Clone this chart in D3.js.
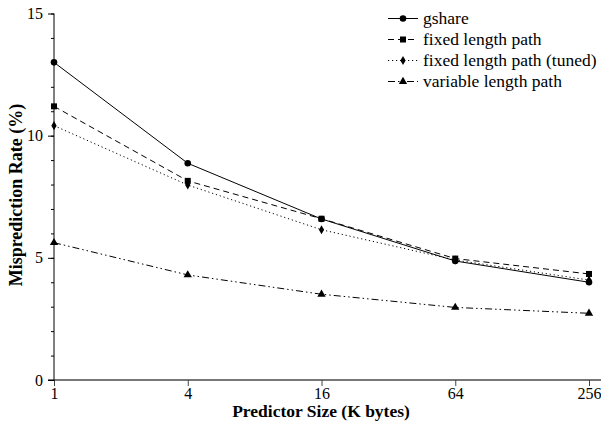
<!DOCTYPE html>
<html><head><meta charset="utf-8">
<script src="https://d3js.org/d3.v7.min.js"></script>
<style>body{margin:0;background:#fff}svg{display:block}text{font-family:"Liberation Serif","Times New Roman",serif}</style>
</head><body><svg id="c" width="601" height="424"></svg>
<script>
const sizes = [1, 4, 16, 64, 256];
const gshare = [13.0, 8.87, 6.59, 4.87, 4.0];
const fixedPath = [11.2, 8.15, 6.6, 4.97, 4.34];
const fixedTuned = [10.41, 7.98, 6.15, 4.91, 4.09];
const variablePath = [5.62, 4.30, 3.51, 2.97, 2.73];
const seriesNames = ["gshare", "fixed length path", "fixed length path (tuned)", "variable length path"];
const yTicks = [0, 5, 10, 15];
const xLabel = "Predictor Size (K bytes)";
const yLabel = "Misprediction Rate (%)";

const svg = d3.select("#c");
const x = d3.scaleLog().base(4).domain([1, 256]).range([54, 589]);
const y = d3.scaleLinear().domain([0, 15]).range([380, 13.5]);

// x axis
const xa = svg.append("g").attr("transform", "translate(0,380)");
xa.append("line").attr("x1", 48).attr("x2", 601).attr("y1", 0).attr("y2", 0)
  .attr("stroke", "#777").attr("stroke-width", 2);
xa.call(g => {
  const ax = d3.axisBottom(x).tickValues(sizes).tickFormat(d3.format("d")).tickSize(6).tickPadding(2);
  const gg = g.append("g").call(ax);
  gg.select(".domain").remove();
  gg.selectAll(".tick line").attr("stroke", "#444");
  gg.selectAll(".tick text").attr("font-size", 16).attr("fill", "#000");
});

// y axis
const ya = svg.append("g").attr("transform", "translate(54,0)");
ya.append("g").call(d3.axisLeft(y).tickValues(d3.range(0, 16)).tickSize(3).tickFormat(""))
  .call(g => g.select(".domain").remove());
ya.append("g").call(d3.axisLeft(y).tickValues(yTicks).tickSize(6).tickPadding(5).tickFormat(d3.format("d")))
  .call(g => g.select(".domain").remove())
  .call(g => g.selectAll("text").attr("font-size", 16).attr("fill", "#000"));
ya.append("line").attr("x1", 0).attr("x2", 0).attr("y1", y(15)).attr("y2", y(0) + 1).attr("stroke", "#000");

// labels
svg.append("text").attr("x", 321).attr("y", 417).attr("text-anchor", "middle")
  .attr("font-weight", "bold").attr("font-size", 17.5).text(xLabel);
svg.append("text").attr("transform", "translate(22,195) rotate(-90)").attr("text-anchor", "middle")
  .attr("font-weight", "bold").attr("font-size", 18).text(yLabel);

const series = [
  {name: seriesNames[0], values: gshare, dash: null, marker: "circle"},
  {name: seriesNames[1], values: fixedPath, dash: "6,4", marker: "square"},
  {name: seriesNames[2], values: fixedTuned, dash: "1.2,2.8", marker: "diamond"},
  {name: seriesNames[3], values: variablePath, dash: "7,3,1.5,3,1.5,3", marker: "triangle"}
];
const sym = {
  circle: d3.symbol().type(d3.symbolCircle).size(34),
  square: d3.symbol().type(d3.symbolSquare).size(36),
  diamond: d3.symbol().type(d3.symbolDiamond).size(24),
  triangle: d3.symbol().type(d3.symbolTriangle).size(30)
};
const line = d3.line().x((d, i) => x(sizes[i])).y(d => y(d));

series.forEach((s, k) => {
  svg.append("path").attr("d", line(s.values)).attr("fill", "none").attr("stroke", "#000")
    .attr("stroke-width", 1).attr("stroke-dasharray", s.dash);
  svg.selectAll(null).data(s.values).enter().append("path")
    .attr("d", sym[s.marker]()).attr("fill", "#000")
    .attr("transform", (d, i) => `translate(${x(sizes[i])},${y(d)})`);
  // legend
  const ly = 18.5 + k * 21;
  svg.append("line").attr("x1", 388).attr("x2", 418).attr("y1", ly).attr("y2", ly)
    .attr("stroke", "#000").attr("stroke-dasharray", s.dash);
  svg.append("path").attr("d", sym[s.marker]()).attr("fill", "#000")
    .attr("transform", `translate(403,${ly})`);
  svg.append("text").attr("x", 423).attr("y", ly + 5).attr("font-size", 17.5).text(s.name);
});
</script></body></html>
